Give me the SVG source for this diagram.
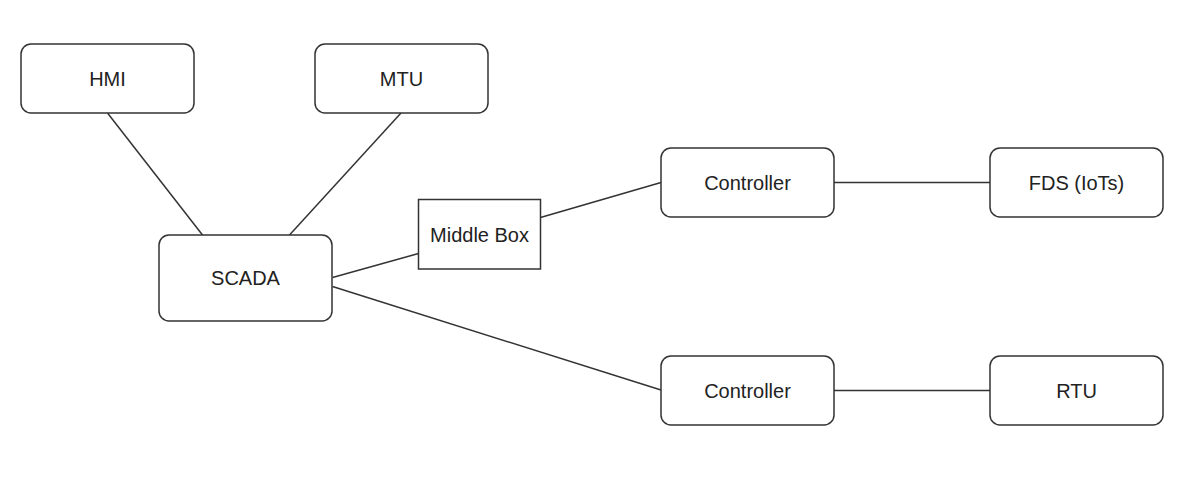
<svg xmlns="http://www.w3.org/2000/svg" width="1192" height="480" viewBox="0 0 1192 480">
<style>
.box{fill:#fff;stroke:#333;stroke-width:1.5}
.lbl{font-family:"Liberation Sans",Arial,sans-serif;font-size:20px;fill:#222;text-anchor:middle}
.ln{stroke:#333;stroke-width:1.5;fill:none}
</style>
<rect width="1192" height="480" fill="#fff"/>
<g id="connectors">
<line class="ln" x1="107.5" y1="113" x2="202.5" y2="235"/>
<line class="ln" x1="401" y1="113" x2="289.5" y2="235"/>
<line class="ln" x1="332.5" y1="277.5" x2="418.5" y2="253.5"/>
<line class="ln" x1="332.5" y1="286.5" x2="661" y2="390"/>
<line class="ln" x1="540.5" y1="217.5" x2="661" y2="182.5"/>
<line class="ln" x1="834" y1="182.5" x2="990" y2="182.5"/>
<line class="ln" x1="834" y1="390.5" x2="990" y2="390.5"/>
</g>
<g id="hmi"><rect class="box" x="21" y="44" width="173" height="69" rx="10"/><text class="lbl" x="107.5" y="85.5">HMI</text></g>
<g id="mtu"><rect class="box" x="315" y="44" width="173" height="69" rx="10"/><text class="lbl" x="401.5" y="85.5">MTU</text></g>
<g id="scada"><rect class="box" x="159" y="235" width="173" height="86" rx="10"/><text class="lbl" x="245.5" y="285">SCADA</text></g>
<g id="middlebox"><rect class="box" x="418.5" y="199.5" width="122" height="69.5"/><text class="lbl" x="479.5" y="241.5">Middle Box</text></g>
<g id="controller1"><rect class="box" x="661" y="148" width="173" height="69" rx="10"/><text class="lbl" x="747.5" y="189.5">Controller</text></g>
<g id="fds"><rect class="box" x="990" y="148" width="173" height="69" rx="10"/><text class="lbl" x="1076.5" y="189.5">FDS (IoTs)</text></g>
<g id="controller2"><rect class="box" x="661" y="356" width="173" height="69" rx="10"/><text class="lbl" x="747.5" y="397.5">Controller</text></g>
<g id="rtu"><rect class="box" x="990" y="356" width="173" height="69" rx="10"/><text class="lbl" x="1076.5" y="397.5">RTU</text></g>
</svg>
